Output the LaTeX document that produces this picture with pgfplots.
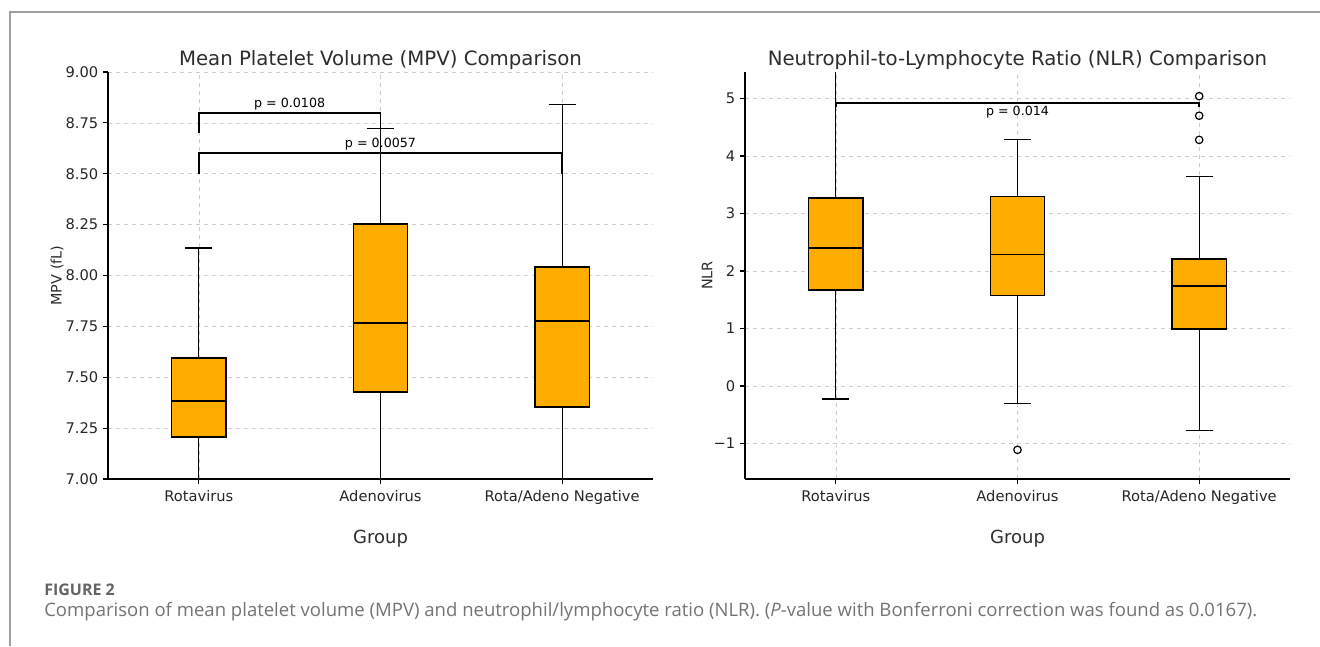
\documentclass[border=0pt]{standalone}
\usepackage{fontspec}
\setmainfont{DejaVu Sans}
\newfontfamily\capfont{Open Sans}
\usepackage{pgfplots}
\pgfplotsset{compat=1.18}
\usepgfplotslibrary{statistics}
\definecolor{boxorange}{RGB}{255,172,0}
\definecolor{gridgray}{RGB}{205,205,205}
\definecolor{titlegray}{RGB}{45,45,45}
\definecolor{capgray}{RGB}{100,100,100}

\pgfplotsset{
 mystyle/.style={
  scale only axis, width=408.75pt, height=305.25pt,
  xmin=-0.5, xmax=2.5,
  axis lines*=left,
  xtick={0,1,2}, xticklabels={Rotavirus,Adenovirus,Rota/Adeno Negative},
  tick align=outside, major tick length=3.75pt,
  tick style={black, line width=0.8pt},
  axis line style={black, line width=1pt},
  xmajorgrids, ymajorgrids,
  grid style={dashed, gridgray, line width=0.5pt},
  ticklabel style={font=\fontsize{11}{12}\selectfont, text=black!85},
  xticklabel style={yshift=-1pt},
  xlabel={Group},
  xlabel style={font=\fontsize{13.5}{15}\selectfont, text=titlegray, at={([yshift=-45pt]axis description cs:0.5,0)}, anchor=center},
  title style={font=\fontsize{14.8}{16}\selectfont, text=titlegray, at={([yshift=3pt]axis description cs:0.5,1)}, anchor=center, yshift=0pt},
  boxplot/draw direction=y,
 },
 mybox/.style={draw=black, fill=boxorange, line width=0.9pt, solid},
}

\begin{document}
\begin{tikzpicture}
\useasboundingbox (0,0) rectangle (990pt,-484.5pt);
\draw[gray!75, line width=1pt] (7.5pt,-484.5pt) -- (7.5pt,-9pt) -- (990pt,-9pt);

% ---------- left: MPV ----------
\begin{axis}[mystyle,
  at={(81pt,-359.25pt)}, anchor=south west,
  ymin=7, ymax=9,
  ytick={7,7.25,7.5,7.75,8,8.25,8.5,8.75,9},
  yticklabels={7.00,7.25,7.50,7.75,8.00,8.25,8.50,8.75,9.00},
  title={Mean Platelet Volume (MPV) Comparison},
  ylabel={MPV (fL)},
  ylabel style={font=\fontsize{10.8}{12}\selectfont, text=titlegray, at={([xshift=-38.25pt]axis description cs:0,0.5)}, anchor=center},
]
\addplot[mybox, boxplot prepared={draw position=0, lower whisker=6.75, lower quartile=7.206, median=7.383, upper quartile=7.595, upper whisker=8.135, box extend=0.3, whisker extend=0.15}] coordinates {};
\addplot[mybox, boxplot prepared={draw position=1, lower whisker=6.7, lower quartile=7.428, median=7.767, upper quartile=8.253, upper whisker=8.722, box extend=0.3, whisker extend=0.15}] coordinates {};
\addplot[mybox, boxplot prepared={draw position=2, lower whisker=6.6, lower quartile=7.354, median=7.776, upper quartile=8.042, upper whisker=8.840, box extend=0.3, whisker extend=0.15}] coordinates {};
\addplot[black, line width=1.4pt] coordinates {(0,8.70) (0,8.80) (1,8.80) (1,8.70)};
\addplot[black, line width=1.4pt] coordinates {(0,8.50) (0,8.60) (2,8.60) (2,8.50)};
\node[font=\fontsize{9.5}{10}\selectfont, anchor=south, inner sep=2pt] at (axis cs:0.5,8.80) {p = 0.0108};
\node[font=\fontsize{9.5}{10}\selectfont, anchor=south, inner sep=2pt] at (axis cs:1,8.60) {p = 0.0057};
\end{axis}

% ---------- right: NLR ----------
\begin{axis}[mystyle,
  at={(558.75pt,-359.25pt)}, anchor=south west,
  ymin=-1.617, ymax=5.46,
  ytick={-1,0,1,2,3,4,5},
  yticklabels={−1,0,1,2,3,4,5},
  title={Neutrophil-to-Lymphocyte Ratio (NLR) Comparison},
  ylabel={NLR},
  ylabel style={font=\fontsize{10.8}{12}\selectfont, text=titlegray, at={([xshift=-28.5pt]axis description cs:0,0.5)}, anchor=center},
]
\addplot[mybox, boxplot prepared={draw position=0, lower whisker=-0.226, lower quartile=1.67, median=2.40, upper quartile=3.27, upper whisker=5.7, box extend=0.3, whisker extend=0.15}] coordinates {};
\addplot[mybox, boxplot prepared={draw position=1, lower whisker=-0.31, lower quartile=1.58, median=2.28, upper quartile=3.30, upper whisker=4.28, box extend=0.3, whisker extend=0.15}] coordinates {};
\addplot[mybox, boxplot prepared={draw position=2, lower whisker=-0.77, lower quartile=0.99, median=1.74, upper quartile=2.21, upper whisker=3.65, box extend=0.3, whisker extend=0.15}] coordinates {};
\addplot[only marks, mark=o, mark size=2.8pt, mark options={black, line width=0.9pt}] coordinates {(1,-1.11) (2,5.04) (2,4.70) (2,4.28)};
\addplot[black, line width=1.4pt] coordinates {(0,4.85) (0,4.92) (2,4.92) (2,4.85)};
\node[font=\fontsize{9.5}{10}\selectfont, anchor=north, inner sep=2pt] at (axis cs:1,4.92) {p = 0.014};
\end{axis}

% ---------- caption ----------
\node[anchor=west, inner sep=0pt, font=\capfont\fontsize{12}{13}\selectfont\bfseries, text=capgray] at (33pt,-442.5pt) {FIGURE 2};
\node[anchor=west, inner sep=0pt, font=\capfont\fontsize{13.9}{16}\selectfont, text=capgray!90] at (33pt,-459pt) {Comparison of mean platelet volume (MPV) and neutrophil/lymphocyte ratio (NLR). (\textit{P}-value with Bonferroni correction was found as 0.0167).};
\end{tikzpicture}
\end{document}
